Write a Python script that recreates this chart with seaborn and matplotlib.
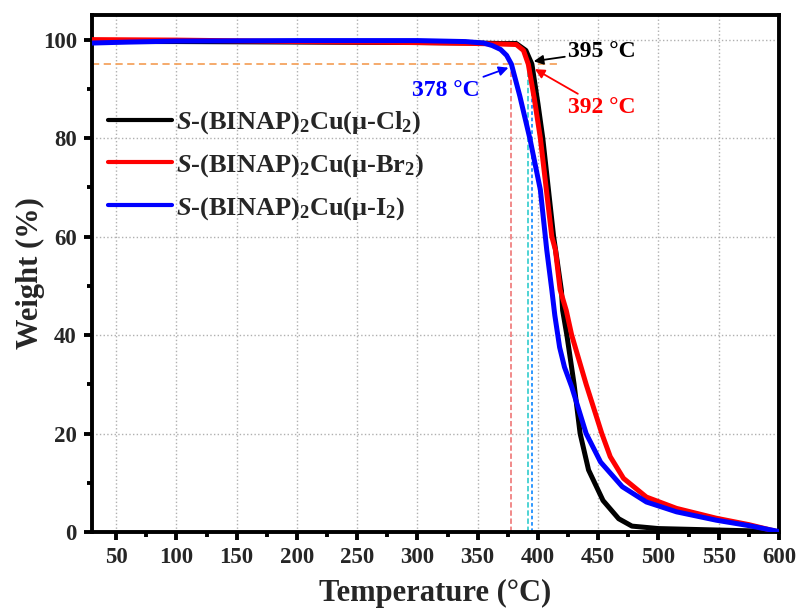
import matplotlib
matplotlib.use("Agg")
import matplotlib.pyplot as plt
from matplotlib.ticker import MultipleLocator
import numpy as np
import pandas as pd
import seaborn as sns

# TGA curves: temperature (°C) and residual weight (%)
temp_cl = [30, 100, 200, 300, 350, 370, 382, 390, 395, 400, 404, 413, 416,
           419.5, 420.5, 424, 430, 435, 442, 454, 467, 478, 500, 550, 600]
weight_cl = [99.6, 99.6, 99.5, 99.4, 99.3, 99.2, 99.2, 97.8, 95.0, 87.0, 80.0,
             60.0, 55.0, 49.0, 45.0, 40.0, 30.0, 20.0, 12.6, 6.4, 2.7, 1.2,
             0.7, 0.4, 0.1]

temp_br = [30, 100, 200, 300, 350, 370, 382, 388, 392, 397, 402, 411.5,
           414.5, 418.4, 423.5, 428, 440, 453, 460, 471, 490, 515, 548, 575,
           600]
weight_br = [100.0, 99.9, 99.6, 99.4, 99.2, 99.1, 99.0, 97.8, 95.0, 88.0,
             80.0, 60.0, 57.3, 49.2, 45.0, 40.0, 30.0, 20.0, 15.3, 10.9, 7.1,
             4.8, 2.8, 1.5, 0.0]

temp_i = [30, 60, 100, 200, 300, 340, 355, 362, 369, 374, 378, 385, 393.5,
          402, 407.3, 411.5, 414, 418, 422, 428, 440, 452, 470, 490, 515, 548,
          575, 600]
weight_i = [99.3, 99.5, 99.7, 99.8, 99.8, 99.6, 99.3, 98.8, 98.0, 96.8, 95.0,
            88.5, 79.7, 69.5, 57.3, 49.2, 44.0, 37.5, 33.5, 29.5, 20.0, 14.2,
            9.2, 6.1, 4.1, 2.4, 1.3, 0.1]

series_labels = [r"$\mathit{S}$-(BINAP)$_{2}$Cu(μ-Cl$_{2}$)",
                 r"$\mathit{S}$-(BINAP)$_{2}$Cu(μ-Br$_{2}$)",
                 r"$\mathit{S}$-(BINAP)$_{2}$Cu(μ-I$_{2}$)"]
series_colors = ["#000000", "#FF0000", "#0000FF"]

# onset temperatures at 95 % weight
onset_temps = [395, 392, 378]
onset_weight = 95
onset_texts = ["395 °C", "392 °C", "378 °C"]

sns.set_theme(style="white")
plt.rcParams["font.family"] = ["Liberation Serif", "DejaVu Serif"]
plt.rcParams["font.weight"] = "bold"
plt.rcParams["mathtext.fontset"] = "custom"
plt.rcParams["mathtext.rm"] = "Liberation Serif:bold"
plt.rcParams["mathtext.it"] = "Liberation Serif:italic:bold"
plt.rcParams["mathtext.bf"] = "Liberation Serif:bold"

fig = plt.figure(figsize=(8.01, 6.09), dpi=100)
ax = fig.add_axes([0.1149, 0.1264, 0.8576, 0.849])

# reference guide lines for the 95 % weight-loss onsets
ax.plot([30, 416], [onset_weight, onset_weight], color="#F4A460",
        linestyle=(0, (4, 2.5)), linewidth=1.3, zorder=1)
guide_colors = ["#1E90FF", "#40D0D0", "#F08080"]
guide_styles = [(0, (2, 1.5)), (0, (3, 1.5)), (0, (3, 1.5))]
for t, c, ls in zip(onset_temps, guide_colors, guide_styles):
    ax.plot([t, t], [0, onset_weight], color=c, linestyle=ls,
            linewidth=1.3, zorder=1)

frames = [
    pd.DataFrame({"Temperature": temp_cl, "Weight": weight_cl}),
    pd.DataFrame({"Temperature": temp_br, "Weight": weight_br}),
    pd.DataFrame({"Temperature": temp_i, "Weight": weight_i}),
]
for df, lab, col in zip(frames, series_labels, series_colors):
    sns.lineplot(data=df, x="Temperature", y="Weight", ax=ax, color=col,
                 linewidth=3.6, label=lab, sort=False, estimator=None,
                 zorder=3)

# onset annotations
arrow_kw = dict(arrowstyle="-|>", lw=1.3, mutation_scale=14,
                shrinkA=0, shrinkB=0)
ax.annotate(onset_texts[0], xy=(396.5, 95.6), xytext=(425, 97.6),
            color="black", fontsize=17, fontweight="bold",
            va="center", ha="left",
            arrowprops=dict(color="black", **arrow_kw))
ax.annotate(onset_texts[1], xy=(397.5, 94.0), xytext=(425, 86.2),
            color="red", fontsize=17, fontweight="bold",
            va="center", ha="left",
            arrowprops=dict(color="red", **arrow_kw))
ax.annotate(onset_texts[2], xy=(375.5, 94.3), xytext=(352, 89.7),
            color="blue", fontsize=17, fontweight="bold",
            va="center", ha="right",
            arrowprops=dict(color="blue", **arrow_kw))

ax.set_xlim(30, 600)
ax.set_ylim(0, 105)
ax.xaxis.set_major_locator(MultipleLocator(50))
ax.xaxis.set_minor_locator(MultipleLocator(25))
ax.yaxis.set_major_locator(MultipleLocator(20))
ax.yaxis.set_minor_locator(MultipleLocator(10))
ax.grid(True, which="major", color="#B0B0B0", linestyle=":", linewidth=1.0)
ax.set_axisbelow(True)

for s in ax.spines.values():
    s.set_visible(True)
    s.set_color("black")
    s.set_linewidth(2.8)
ax.tick_params(axis="both", which="major", direction="out", length=6,
               width=2.8, labelsize=16.5, pad=5, color="black",
               bottom=True, left=True)
ax.tick_params(axis="both", which="minor", direction="out", length=3.5,
               width=2.8, color="black", bottom=True, left=True)
for lab in ax.get_xticklabels() + ax.get_yticklabels():
    lab.set_fontweight("bold")

ax.set_xlabel("Temperature (°C)", fontsize=22, fontweight="bold", labelpad=8)
ax.set_ylabel("Weight (%)", fontsize=22, fontweight="bold", labelpad=-2)

leg = ax.legend(loc="upper left", bbox_to_anchor=(-0.003, 0.853), frameon=False,
                fontsize=19, handlelength=2.4, handletextpad=0.15,
                labelspacing=0.6, borderaxespad=0.3)
for line in leg.get_lines():
    line.set_linewidth(3.0)

fig.savefig("out.png", dpi=100)
